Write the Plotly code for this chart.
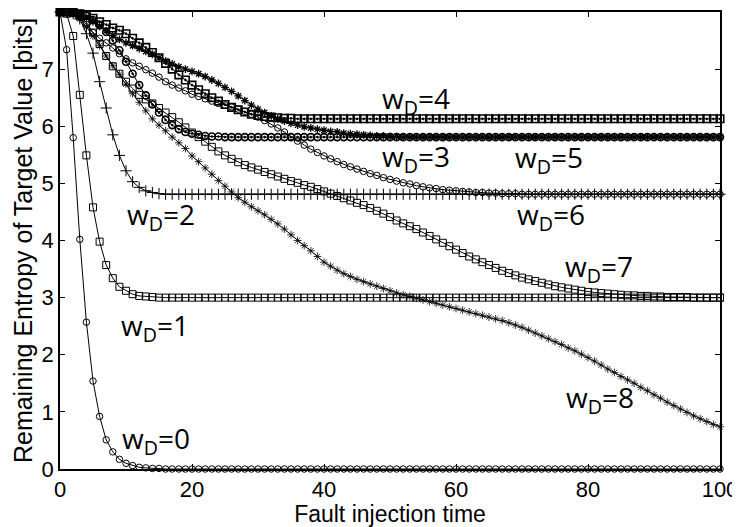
import plotly.graph_objects as go

t = list(range(101))

w0 = [8.00, 7.34, 5.80, 4.02, 2.57, 1.54, 0.92, 0.51, 0.30, 0.17,
      0.10, 0.06, 0.03, 0.02, 0.01, 0.01, 0.00, 0.00, 0.00, 0.00,
      0.00, 0.00, 0.00, 0.00, 0.00, 0.00, 0.00, 0.00, 0.00, 0.00,
      0.00, 0.00, 0.00, 0.00, 0.00, 0.00, 0.00, 0.00, 0.00, 0.00,
      0.00, 0.00, 0.00, 0.00, 0.00, 0.00, 0.00, 0.00, 0.00, 0.00,
      0.00, 0.00, 0.00, 0.00, 0.00, 0.00, 0.00, 0.00, 0.00, 0.00,
      0.00, 0.00, 0.00, 0.00, 0.00, 0.00, 0.00, 0.00, 0.00, 0.00,
      0.00, 0.00, 0.00, 0.00, 0.00, 0.00, 0.00, 0.00, 0.00, 0.00,
      0.00, 0.00, 0.00, 0.00, 0.00, 0.00, 0.00, 0.00, 0.00, 0.00,
      0.00, 0.00, 0.00, 0.00, 0.00, 0.00, 0.00, 0.00, 0.00, 0.00,
      0.00]

w1 = [8.00, 7.97, 7.58, 6.55, 5.49, 4.58, 3.98, 3.57, 3.34, 3.19,
      3.12, 3.06, 3.03, 3.02, 3.01, 3.00, 3.00, 3.00, 3.00, 3.00,
      3.00, 3.00, 3.00, 3.00, 3.00, 3.00, 3.00, 3.00, 3.00, 3.00,
      3.00, 3.00, 3.00, 3.00, 3.00, 3.00, 3.00, 3.00, 3.00, 3.00,
      3.00, 3.00, 3.00, 3.00, 3.00, 3.00, 3.00, 3.00, 3.00, 3.00,
      3.00, 3.00, 3.00, 3.00, 3.00, 3.00, 3.00, 3.00, 3.00, 3.00,
      3.00, 3.00, 3.00, 3.00, 3.00, 3.00, 3.00, 3.00, 3.00, 3.00,
      3.00, 3.00, 3.00, 3.00, 3.00, 3.00, 3.00, 3.00, 3.00, 3.00,
      3.00, 3.00, 3.00, 3.00, 3.00, 3.00, 3.00, 3.00, 3.00, 3.00,
      3.00, 3.00, 3.00, 3.00, 3.00, 3.00, 3.00, 3.00, 3.00, 3.00,
      3.00]

w2 = [8.00, 8.00, 7.97, 7.88, 7.62, 7.28, 6.78, 6.32, 5.85, 5.49,
      5.22, 5.03, 4.93, 4.87, 4.84, 4.82, 4.81, 4.81, 4.81, 4.81,
      4.81, 4.81, 4.81, 4.81, 4.81, 4.81, 4.81, 4.81, 4.81, 4.81,
      4.81, 4.81, 4.81, 4.81, 4.81, 4.81, 4.81, 4.81, 4.81, 4.81,
      4.81, 4.81, 4.81, 4.81, 4.81, 4.81, 4.81, 4.81, 4.81, 4.81,
      4.81, 4.81, 4.81, 4.81, 4.81, 4.81, 4.81, 4.81, 4.81, 4.81,
      4.81, 4.81, 4.81, 4.81, 4.81, 4.81, 4.81, 4.81, 4.81, 4.81,
      4.81, 4.81, 4.81, 4.81, 4.81, 4.81, 4.81, 4.81, 4.81, 4.81,
      4.81, 4.81, 4.81, 4.81, 4.81, 4.81, 4.81, 4.81, 4.81, 4.81,
      4.81, 4.81, 4.81, 4.81, 4.81, 4.81, 4.81, 4.81, 4.81, 4.81,
      4.81]

w3 = [8.00, 8.00, 7.99, 7.97, 7.93, 7.86, 7.77, 7.65, 7.50, 7.33,
      7.13, 6.92, 6.72, 6.54, 6.38, 6.24, 6.11, 6.02, 5.95, 5.90,
      5.87, 5.85, 5.83, 5.82, 5.82, 5.81, 5.81, 5.81, 5.81, 5.81,
      5.81, 5.81, 5.81, 5.81, 5.81, 5.81, 5.81, 5.81, 5.81, 5.81,
      5.81, 5.81, 5.81, 5.81, 5.81, 5.81, 5.81, 5.81, 5.81, 5.81,
      5.81, 5.81, 5.81, 5.81, 5.81, 5.81, 5.81, 5.81, 5.81, 5.81,
      5.81, 5.81, 5.81, 5.81, 5.81, 5.81, 5.81, 5.81, 5.81, 5.81,
      5.81, 5.81, 5.81, 5.81, 5.81, 5.81, 5.81, 5.81, 5.81, 5.81,
      5.81, 5.81, 5.81, 5.81, 5.81, 5.81, 5.81, 5.81, 5.81, 5.81,
      5.81, 5.81, 5.81, 5.81, 5.81, 5.81, 5.81, 5.81, 5.81, 5.81,
      5.81]

w4 = [8.00, 8.00, 7.99, 7.97, 7.94, 7.89, 7.83, 7.78, 7.72, 7.68,
      7.62, 7.54, 7.46, 7.38, 7.29, 7.20, 7.10, 7.00, 6.90, 6.81,
      6.72, 6.64, 6.57, 6.50, 6.44, 6.38, 6.33, 6.29, 6.25, 6.21,
      6.19, 6.17, 6.16, 6.15, 6.14, 6.14, 6.13, 6.13, 6.13, 6.13,
      6.13, 6.13, 6.13, 6.13, 6.13, 6.13, 6.13, 6.13, 6.13, 6.13,
      6.13, 6.13, 6.13, 6.13, 6.13, 6.13, 6.13, 6.13, 6.13, 6.13,
      6.13, 6.13, 6.13, 6.13, 6.13, 6.13, 6.13, 6.13, 6.13, 6.13,
      6.13, 6.13, 6.13, 6.13, 6.13, 6.13, 6.13, 6.13, 6.13, 6.13,
      6.13, 6.13, 6.13, 6.13, 6.13, 6.13, 6.13, 6.13, 6.13, 6.13,
      6.13, 6.13, 6.13, 6.13, 6.13, 6.13, 6.13, 6.13, 6.13, 6.13,
      6.13]

w5 = [8.00, 8.00, 7.99, 7.96, 7.90, 7.83, 7.75, 7.67, 7.59, 7.52,
      7.46, 7.41, 7.36, 7.31, 7.26, 7.20, 7.14, 7.09, 7.04, 7.00,
      6.96, 6.92, 6.87, 6.81, 6.75, 6.68, 6.61, 6.53, 6.45, 6.37,
      6.30, 6.24, 6.18, 6.13, 6.09, 6.05, 6.02, 5.99, 5.97, 5.95,
      5.93, 5.91, 5.90, 5.88, 5.87, 5.86, 5.85, 5.84, 5.83, 5.83,
      5.82, 5.82, 5.81, 5.81, 5.81, 5.81, 5.81, 5.81, 5.81, 5.81,
      5.81, 5.81, 5.81, 5.81, 5.81, 5.81, 5.81, 5.81, 5.81, 5.81,
      5.81, 5.81, 5.81, 5.81, 5.81, 5.81, 5.81, 5.81, 5.81, 5.81,
      5.81, 5.81, 5.81, 5.81, 5.81, 5.81, 5.81, 5.81, 5.81, 5.81,
      5.81, 5.81, 5.81, 5.81, 5.81, 5.81, 5.81, 5.81, 5.81, 5.81,
      5.81]

w6 = [8.00, 8.00, 7.98, 7.92, 7.78, 7.64, 7.54, 7.46, 7.37, 7.27,
      7.18, 7.11, 7.05, 6.99, 6.93, 6.86, 6.78, 6.72, 6.67, 6.62,
      6.56, 6.52, 6.48, 6.44, 6.40, 6.37, 6.34, 6.30, 6.26, 6.21,
      6.16, 6.10, 6.04, 5.97, 5.90, 5.82, 5.74, 5.67, 5.60, 5.54,
      5.48, 5.43, 5.38, 5.33, 5.29, 5.25, 5.21, 5.17, 5.14, 5.10,
      5.07, 5.04, 5.01, 4.99, 4.96, 4.94, 4.92, 4.91, 4.89, 4.88,
      4.87, 4.86, 4.85, 4.84, 4.84, 4.83, 4.83, 4.82, 4.82, 4.82,
      4.81, 4.81, 4.81, 4.81, 4.81, 4.81, 4.81, 4.81, 4.81, 4.81,
      4.81, 4.81, 4.81, 4.81, 4.81, 4.81, 4.81, 4.81, 4.81, 4.81,
      4.81, 4.81, 4.81, 4.81, 4.81, 4.81, 4.81, 4.81, 4.81, 4.81,
      4.81]

w7 = [8.00, 8.00, 7.98, 7.92, 7.82, 7.64, 7.44, 7.23, 7.05, 6.92,
      6.78, 6.66, 6.55, 6.47, 6.40, 6.32, 6.24, 6.16, 6.07, 5.98,
      5.89, 5.81, 5.73, 5.64, 5.56, 5.49, 5.43, 5.37, 5.32, 5.28,
      5.24, 5.20, 5.16, 5.12, 5.08, 5.04, 5.01, 4.97, 4.94, 4.90,
      4.86, 4.82, 4.78, 4.74, 4.70, 4.66, 4.62, 4.57, 4.52, 4.47,
      4.41, 4.35, 4.30, 4.25, 4.20, 4.14, 4.08, 4.02, 3.96, 3.90,
      3.84, 3.78, 3.72, 3.67, 3.62, 3.57, 3.52, 3.47, 3.43, 3.39,
      3.35, 3.32, 3.29, 3.26, 3.23, 3.20, 3.18, 3.16, 3.14, 3.12,
      3.10, 3.09, 3.08, 3.07, 3.06, 3.05, 3.04, 3.04, 3.03, 3.03,
      3.02, 3.02, 3.01, 3.01, 3.01, 3.01, 3.00, 3.00, 3.00, 3.00,
      3.00]

w8 = [8.00, 8.00, 7.97, 7.88, 7.74, 7.58, 7.41, 7.23, 7.06, 6.91,
      6.74, 6.57, 6.42, 6.27, 6.13, 6.02, 5.92, 5.81, 5.71, 5.61,
      5.48, 5.38, 5.27, 5.16, 5.05, 4.95, 4.85, 4.75, 4.67, 4.59,
      4.52, 4.45, 4.37, 4.29, 4.20, 4.10, 4.00, 3.91, 3.82, 3.72,
      3.62, 3.55, 3.48, 3.42, 3.37, 3.32, 3.28, 3.24, 3.20, 3.16,
      3.12, 3.08, 3.05, 3.02, 2.99, 2.96, 2.93, 2.90, 2.87, 2.84,
      2.81, 2.78, 2.75, 2.72, 2.69, 2.66, 2.63, 2.60, 2.56, 2.52,
      2.48, 2.43, 2.38, 2.33, 2.28, 2.23, 2.18, 2.12, 2.07, 2.01,
      1.95, 1.89, 1.82, 1.75, 1.69, 1.62, 1.56, 1.50, 1.43, 1.37,
      1.30, 1.24, 1.17, 1.11, 1.05, 0.99, 0.93, 0.88, 0.83, 0.78,
      0.74]

series = [w0, w1, w2, w3, w4, w5, w6, w7, w8]
names = ["w<sub>D</sub>=0", "w<sub>D</sub>=1", "w<sub>D</sub>=2", "w<sub>D</sub>=3",
         "w<sub>D</sub>=4", "w<sub>D</sub>=5", "w<sub>D</sub>=6", "w<sub>D</sub>=7",
         "w<sub>D</sub>=8"]
symbols = ["circle-open", "square-open", "cross-thin-open", "circle-open-dot",
           "square-open-dot", "asterisk-open", "circle-open", "square-open",
           "asterisk-open"]
msizes = [6.5, 7, 8, 7, 7.5, 6.5, 6.5, 7, 6.5]
mwidths = [1, 1, 1, 1.6, 1.6, 1.3, 1, 1, 0.8]

label_x = [14.5, 14.4, 15.3, 53.9, 53.9, 74.1, 74.4, 81.7, 81.8]
label_y = [0.51, 2.49, 4.43, 5.45, 6.46, 5.43, 4.43, 3.52, 1.23]

fig = go.Figure()
for s, nm, sym, ms, mw in zip(series, names, symbols, msizes, mwidths):
    fig.add_trace(go.Scatter(
        x=t, y=s, mode="lines+markers", name=nm, cliponaxis=False,
        line=dict(color="black", width=1),
        marker=dict(symbol=sym, size=ms, color="black",
                    line=dict(color="black", width=mw)),
        showlegend=False))

for nm, lx, ly in zip(names, label_x, label_y):
    fig.add_annotation(x=lx, y=ly, text=nm, showarrow=False,
                       xanchor="center", yanchor="middle",
                       font=dict(family="Open Sans", size=28, color="black"))

axis_common = dict(showgrid=False, zeroline=False, showline=True,
                   linecolor="black", linewidth=1.5, mirror="ticks",
                   ticks="inside", ticklen=5, tickwidth=1, tickcolor="black",
                   automargin=False,
                   tickfont=dict(family="Liberation Sans", size=22, color="black"))

fig.update_xaxes(range=[0, 100], tickvals=[0, 20, 40, 60, 80, 100],
                 title=dict(text="Fault injection time", standoff=3,
                            font=dict(family="Liberation Sans", size=23, color="black")),
                 **axis_common)
fig.update_yaxes(range=[0, 8], tickvals=[0, 1, 2, 3, 4, 5, 6, 7, 8],
                 title=dict(text="Remaining Entropy of Target Value [bits]", standoff=2,
                            font=dict(family="Liberation Sans", size=25, color="black")),
                 **axis_common)

fig.update_layout(width=732, height=519,
                  margin=dict(l=52, r=20, t=4, b=58),
                  plot_bgcolor="white", paper_bgcolor="white")

fig.write_html("out.html")
